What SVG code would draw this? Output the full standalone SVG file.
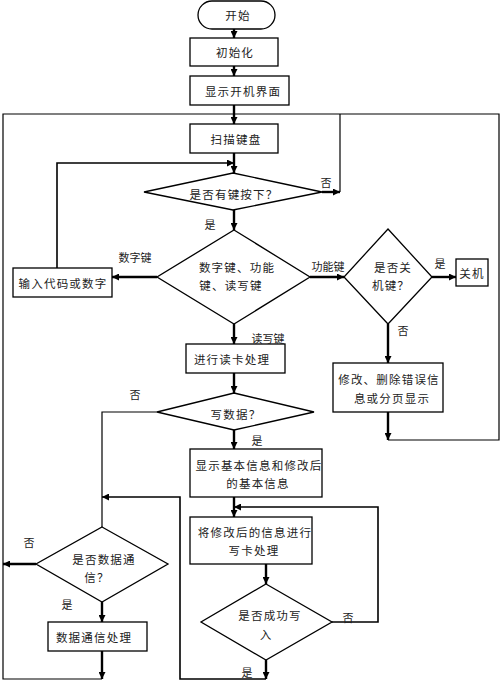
<svg xmlns="http://www.w3.org/2000/svg" width="500" height="681" viewBox="0 0 500 681">
<defs>
<marker id="ah" viewBox="0 0 10 10" refX="10" refY="5" markerWidth="8" markerHeight="7" markerUnits="userSpaceOnUse" orient="auto">
<path d="M0,0 L10,5 L0,10 Z" fill="#000"/>
</marker>
</defs>
<style>
.n{fill:#fff;stroke:#000;stroke-width:1.3}
.t{font-family:"Noto Sans CJK SC","Noto Sans CJK JP",sans-serif;font-size:11.5px;letter-spacing:1.2px;fill:#222;text-anchor:middle;dominant-baseline:central}
.l{font-family:"Noto Sans CJK SC","Noto Sans CJK JP",sans-serif;font-size:11px;fill:#222;text-anchor:middle;dominant-baseline:central}
.a{fill:none;stroke:#000;stroke-width:2.4;marker-end:url(#ah)}
.w{fill:none;stroke:#000;stroke-width:1.2}
.wa{fill:none;stroke:#000;stroke-width:1.6;marker-end:url(#ah)}
</style>
<rect width="500" height="681" fill="#fff"/>
<g id="connectors">
<path class="w" d="M388,440 H499 V114 H3 V679 H102"/>
<path class="a" d="M234,29 V38"/>
<path class="a" d="M234,66 V76"/>
<path class="a" d="M234,105 V124"/>
<path class="a" d="M234,153 V173"/>
<path class="wa" d="M57,268 V163 H234"/>
<path class="a" d="M322,192 H340"/>
<path class="w" d="M340,192 V114"/>
<path class="a" d="M234,210 V230"/>
<path class="a" d="M157,277 H112"/>
<path class="a" d="M310,277 H344"/>
<path class="a" d="M432,277 H456"/>
<path class="a" d="M388,324 V363"/>
<path class="a" d="M388,412 V440"/>
<path class="a" d="M234,324 V344"/>
<path class="a" d="M234,373 V393"/>
<path class="w" d="M157,412 H102 V527"/>
<path class="a" d="M234,430 V449"/>
<path class="a" d="M234,497 V517"/>
<path class="wa" d="M332,622 H378 V507 H234"/>
<path class="a" d="M266,564 V584"/>
<path class="a" d="M266,660 V679"/>
<path class="wa" d="M266,679 H180 V497 H102"/>
<path class="a" d="M36,564 H3"/>
<path class="a" d="M102,602 V622"/>
<path class="a" d="M102,651 V679"/>
</g>
<g id="start"><rect class="n" x="198" y="1" width="77" height="28" rx="14"/><text class="t" x="238" y="15">开始</text></g>
<g id="init"><rect class="n" x="190" y="38" width="88" height="28"/><text class="t" x="235" y="52">初始化</text></g>
<g id="showBoot"><rect class="n" x="190" y="76" width="99" height="29"/><text class="t" x="243" y="91">显示开机界面</text></g>
<g id="scan"><rect class="n" x="190" y="124" width="88" height="29"/><text class="t" x="236" y="139">扫描键盘</text></g>
<g id="keyPressed"><polygon class="n" points="233,173 322,192 233,210 144,192"/><text class="t" x="234" y="194">是否有键按下？</text></g>
<g id="keyType"><polygon class="n" points="234,230 310,277 234,324 157,277"/><text class="t" x="237" y="267">数字键、功能</text><text class="t" x="231" y="285">键、读写键</text></g>
<g id="inputCode"><rect class="n" x="13" y="268" width="99" height="29"/><text class="t" x="63" y="283">输入代码或数字</text></g>
<g id="powerKey"><polygon class="n" points="388,229 432,277 388,324 344,277"/><text class="t" x="393" y="267">是否关</text><text class="t" x="391" y="285">机键？</text></g>
<g id="shutdown"><rect class="n" x="456" y="259" width="32" height="27"/><text class="t" x="472" y="273">关机</text></g>
<g id="modify"><rect class="n" x="333" y="363" width="110" height="49"/><text class="t" x="389" y="379">修改、删除错误信</text><text class="t" x="392" y="398">息或分页显示</text></g>
<g id="readCard"><rect class="n" x="186" y="344" width="99" height="29"/><text class="t" x="232" y="359">进行读卡处理</text></g>
<g id="writeData"><polygon class="n" points="234,393 314,412 234,430 157,412"/><text class="t" x="236" y="414">写数据？</text></g>
<g id="showInfo"><rect class="n" x="190" y="449" width="132" height="48"/><text class="t" x="259" y="465">显示基本信息和修改后</text><text class="t" x="258" y="483">的基本信息</text></g>
<g id="writeCard"><rect class="n" x="190" y="517" width="122" height="47"/><text class="t" x="255" y="532">将修改后的信息进行</text><text class="t" x="254" y="550">写卡处理</text></g>
<g id="writeOk"><polygon class="n" points="266,584 332,622 266,660 201,622"/><text class="t" x="270" y="615">是否成功写</text><text class="t" x="266" y="634">入</text></g>
<g id="dataComm"><polygon class="n" points="102,527 168,564 102,602 36,564"/><text class="t" x="104" y="559">是否数据通</text><text class="t" x="97" y="577">信？</text></g>
<g id="commProc"><rect class="n" x="48" y="622" width="99" height="29"/><text class="t" x="94" y="637">数据通信处理</text></g>
<g id="labels">
<text class="l" x="326" y="182">否</text>
<text class="l" x="210" y="224">是</text>
<text class="l" x="135" y="257">数字键</text>
<text class="l" x="328" y="266">功能键</text>
<text class="l" x="440" y="263">是</text>
<text class="l" x="403" y="330">否</text>
<text class="l" x="268" y="338">读写键</text>
<text class="l" x="135" y="394">否</text>
<text class="l" x="257" y="440">是</text>
<text class="l" x="29" y="542">否</text>
<text class="l" x="67" y="604">是</text>
<text class="l" x="348" y="617">否</text>
<text class="l" x="247" y="672">是</text>
</g>
</svg>
